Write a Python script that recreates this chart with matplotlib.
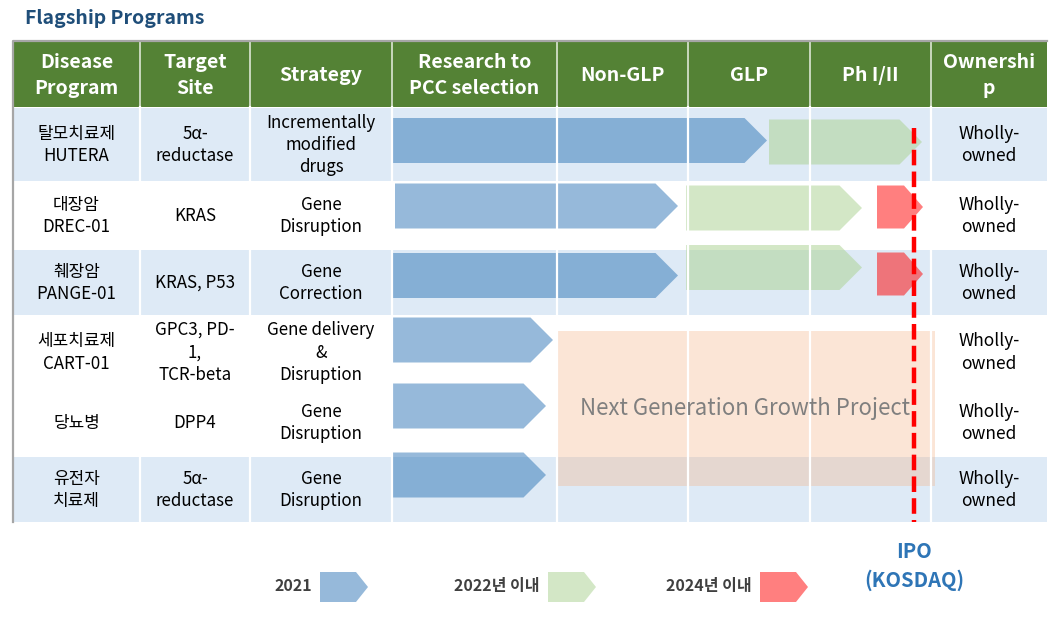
import matplotlib
matplotlib.use('Agg')
import matplotlib.pyplot as plt
from matplotlib.patches import Rectangle, Polygon

plt.rcParams['font.family'] = ['Noto Sans CJK KR', 'DejaVu Sans']

# table content
headers = ['Disease\nProgram', 'Target\nSite', 'Strategy', 'Research to\nPCC selection',
           'Non-GLP', 'GLP', 'Ph I/II', 'Ownershi\np']
programs = ['탈모치료제\nHUTERA', '대장암\nDREC-01', '췌장암\nPANGE-01',
            '세포치료제\nCART-01', '당뇨병', '유전자\n치료제']
targets = ['5α-\nreductase', 'KRAS', 'KRAS, P53', 'GPC3, PD-\n1,\nTCR-beta', 'DPP4', '5α-\nreductase']
strategies = ['Incrementally\nmodified\ndrugs', 'Gene\nDisruption', 'Gene\nCorrection',
              'Gene delivery\n&\nDisruption', 'Gene\nDisruption', 'Gene\nDisruption']
ownership = ['Wholly-\nowned'] * 6
shaded = [True, False, True, False, False, True]

# pipeline progress bars: (start, end) along the stage axis, per row
blue_start = [393, 395, 393, 393, 393, 393]
blue_end = [767, 678, 678, 553, 546, 546]
blue_y = [140.5, 206, 275.5, 340, 406, 475]
green_start = [769, 686, 686]
green_end = [922, 862, 862]
green_y = [142, 208, 267.5]
red_start = [877, 877]
red_end = [923, 923]
red_rows_y = [207, 274]

legend_labels = ['2021', '2022년 이내', '2024년 이내']

# layout
col_edges = [13, 140, 250, 392, 557, 688, 810, 931, 1047]
row_edges = [41, 107, 181, 249, 315, 388, 456, 522]
header_green = '#548235'
light_blue = '#DEEAF6'
c_blue = '#2E75B6'
c_green = '#A9D18E'
c_red = '#FF0000'

fig = plt.figure(figsize=(10.57, 6.21), dpi=100)
ax = fig.add_axes([0, 0, 1, 1])
ax.set_xlim(0, 1057)
ax.set_ylim(621, 0)
ax.axis('off')

ax.text(25, 18, 'Flagship Programs', fontsize=14, fontweight='bold', color='#1F4E79',
        ha='left', va='center')

# header
ax.add_patch(Rectangle((col_edges[0], row_edges[0]), col_edges[-1] - col_edges[0],
                       row_edges[1] - row_edges[0], color=header_green, lw=0))
for i, h in enumerate(headers):
    xc = (col_edges[i] + col_edges[i + 1]) / 2
    ax.text(xc, (row_edges[0] + row_edges[1]) / 2 + 1.5, h, fontsize=14, fontweight='bold',
            color='white', ha='center', va='center', linespacing=1.4)

# body rows
for r in range(6):
    y0, y1 = row_edges[r + 1], row_edges[r + 2]
    if shaded[r]:
        ax.add_patch(Rectangle((col_edges[0], y0 + 1), col_edges[-1] - col_edges[0], y1 - y0 - 1,
                               color=light_blue, lw=0))
    yc = (y0 + y1) / 2 + 1
    for c, col in enumerate([programs, targets, strategies]):
        xc = (col_edges[c] + col_edges[c + 1]) / 2
        ax.text(xc, yc, col[r], fontsize=12.2, color='black', ha='center', va='center',
                linespacing=1.32)
    xc = (col_edges[-2] + col_edges[-1]) / 2
    ax.text(xc, yc, ownership[r], fontsize=12.5, color='black', ha='center', va='center',
            linespacing=1.32)

# grid lines
for x in col_edges[1:-1]:
    ax.plot([x, x], [row_edges[0], row_edges[1]], color='#DCE6D4', lw=1.2)
    ax.plot([x, x], [row_edges[1], row_edges[-1]], color='white', lw=1.6)
ax.plot([col_edges[0], col_edges[0], col_edges[-1]], [row_edges[-1], row_edges[0], row_edges[0]],
        color='#A6A6A6', lw=1.6)


def arrow(x0, x1, yc, h, color, alpha, depth=None):
    d = h * 0.5 if depth is None else depth
    pts = [(x0, yc - h / 2), (x1 - d, yc - h / 2), (x1, yc), (x1 - d, yc + h / 2), (x0, yc + h / 2)]
    ax.add_patch(Polygon(pts, closed=True, color=color, alpha=alpha, lw=0))


# next generation box
ax.add_patch(Rectangle((556, 331), 379, 155, color='#F4B183', alpha=0.33, lw=0))
ax.text(745, 408, 'Next Generation Growth Project', fontsize=16, color='#7F7F7F',
        ha='center', va='center')

for x0, x1, yc in zip(blue_start, blue_end, blue_y):
    arrow(x0, x1, yc, 45, c_blue, 0.5)
for x0, x1, yc in zip(green_start, green_end, green_y):
    arrow(x0, x1, yc, 45, c_green, 0.5)
for x0, x1, yc in zip(red_start, red_end, red_rows_y):
    arrow(x0, x1, yc, 43, c_red, 0.5, depth=19)

# IPO line
ax.plot([914, 914], [128, 522], color='#FF0000', lw=3.2, dashes=(3.5, 1.4))
ax.text(914, 552, 'IPO', fontsize=14.5, fontweight='bold', color=c_blue, ha='center', va='center')
ax.text(914, 580, '(KOSDAQ)', fontsize=14.5, fontweight='bold', color=c_blue, ha='center', va='center')

# legend
leg_x = [320, 548, 760]
for lab, lx, col in zip(legend_labels, leg_x, [c_blue, c_green, c_red]):
    arrow(lx, lx + 48, 587, 30, col, 0.5, depth=12)
    ax.text(lx - 8, 586, lab, fontsize=11.5, fontweight='bold', color='#404040',
            ha='right', va='center')

fig.savefig('out.png', dpi=100)
